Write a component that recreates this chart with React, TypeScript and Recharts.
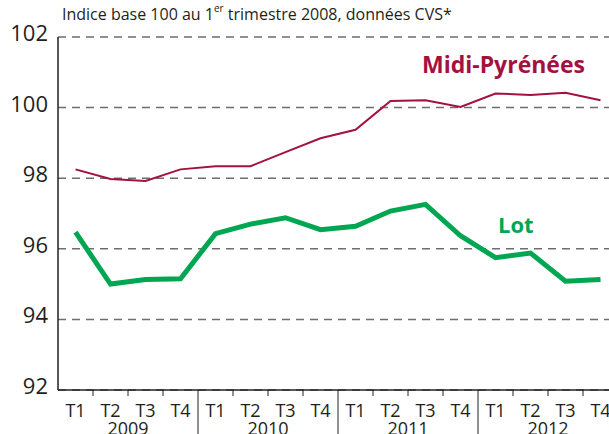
import { CartesianGrid, Line, LineChart, XAxis, YAxis } from 'recharts';

const quarters = ['T1', 'T2', 'T3', 'T4', 'T1', 'T2', 'T3', 'T4', 'T1', 'T2', 'T3', 'T4', 'T1', 'T2', 'T3', 'T4'];
const years = ['2009', '2010', '2011', '2012'];
const midiPyrenees = [98.25, 97.98, 97.92, 98.25, 98.34, 98.34, 98.74, 99.13, 99.37, 100.19, 100.21, 100.02, 100.4, 100.36, 100.42, 100.21];
const lot = [96.47, 95.0, 95.13, 95.15, 96.43, 96.7, 96.88, 96.54, 96.64, 97.07, 97.26, 96.37, 95.75, 95.88, 95.08, 95.13];
const yTicks = [92, 94, 96, 98, 100, 102];

// unique key per quarter so the band scale keeps all 16 slots
const data = quarters.map((q, i) => ({ key: `${years[Math.floor(i / 4)]} ${q}`, q, mp: midiPyrenees[i], lot: lot[i] }));

const FONT = '"Open Sans", sans-serif';
const INK = '#231f20';
const RED = '#a3123f';
const GREEN = '#00a651';

function QuarterTick(props: any) {
  const { x, y, payload, index } = props;
  const half = payload?.offset || 17.5;
  const left = x - half;
  return (
    <g>
      {index % 4 === 0 ? (
        index > 0 && <line x1={left} y1={y} x2={left} y2={y + 50} stroke={INK} strokeWidth={1} />
      ) : (
        <line x1={left} y1={y} x2={left} y2={y + 6} stroke={INK} strokeWidth={1} />
      )}
      <text x={x} y={y + 27} textAnchor="middle" fontSize={18} fill={INK} fontFamily={FONT}>
        {quarters[index]}
      </text>
      {index % 4 === 1 && (
        <text x={x + half} y={y + 45} textAnchor="middle" fontSize={18} fill={INK} fontFamily={FONT}>
          {years[Math.floor(index / 4)]}
        </text>
      )}
    </g>
  );
}

function ValueTick(props: any) {
  const { x, y, payload } = props;
  return (
    <text x={x} y={y + 4} textAnchor="end" fontSize={22} fill={INK} fontFamily={FONT}>
      {payload.value}
    </text>
  );
}

export default function App() {
  return (
    <div
      style={{
        position: 'absolute',
        left: 0,
        top: 0,
        width: 609,
        height: 434,
        overflow: 'hidden',
        background: '#fff',
        fontFamily: FONT,
      }}
    >
      <div style={{ position: 'absolute', left: 62, top: 3, fontSize: 16, color: INK, whiteSpace: 'nowrap' }}>
        Indice base 100 au 1<sup style={{ fontSize: 10, verticalAlign: 'top', lineHeight: 1 }}>er</sup> trimestre 2008,
        données CVS*
      </div>
      <LineChart width={620} height={434} data={data} margin={{ top: 37, right: 2, bottom: 0, left: 0 }}>
        <CartesianGrid vertical={false} stroke="#6d6e71" strokeWidth={1.5} strokeDasharray="8 6" />
        <XAxis
          dataKey="key"
          scale="band"
          interval={0}
          height={44}
          tickSize={0}
          tickMargin={0}
          tickLine={false}
          axisLine={{ stroke: INK, strokeWidth: 1.5 }}
          tick={<QuarterTick />}
        />
        <YAxis
          domain={[92, 102]}
          ticks={yTicks}
          width={58}
          tickSize={0}
          tickMargin={10}
          tickLine={false}
          axisLine={{ stroke: INK, strokeWidth: 1.5 }}
          tick={<ValueTick />}
        />
        <Line type="linear" dataKey="mp" stroke={RED} strokeWidth={2} dot={false} isAnimationActive={false} />
        <Line type="linear" dataKey="lot" stroke={GREEN} strokeWidth={5} dot={false} isAnimationActive={false} />
      </LineChart>
      <div style={{ position: 'absolute', left: 422, top: 48, fontSize: 23, fontWeight: 700, color: RED, whiteSpace: 'nowrap' }}>
        Midi-Pyrénées
      </div>
      <div style={{ position: 'absolute', left: 498, top: 209, fontSize: 22, fontWeight: 700, color: GREEN, whiteSpace: 'nowrap' }}>
        Lot
      </div>
    </div>
  );
}
